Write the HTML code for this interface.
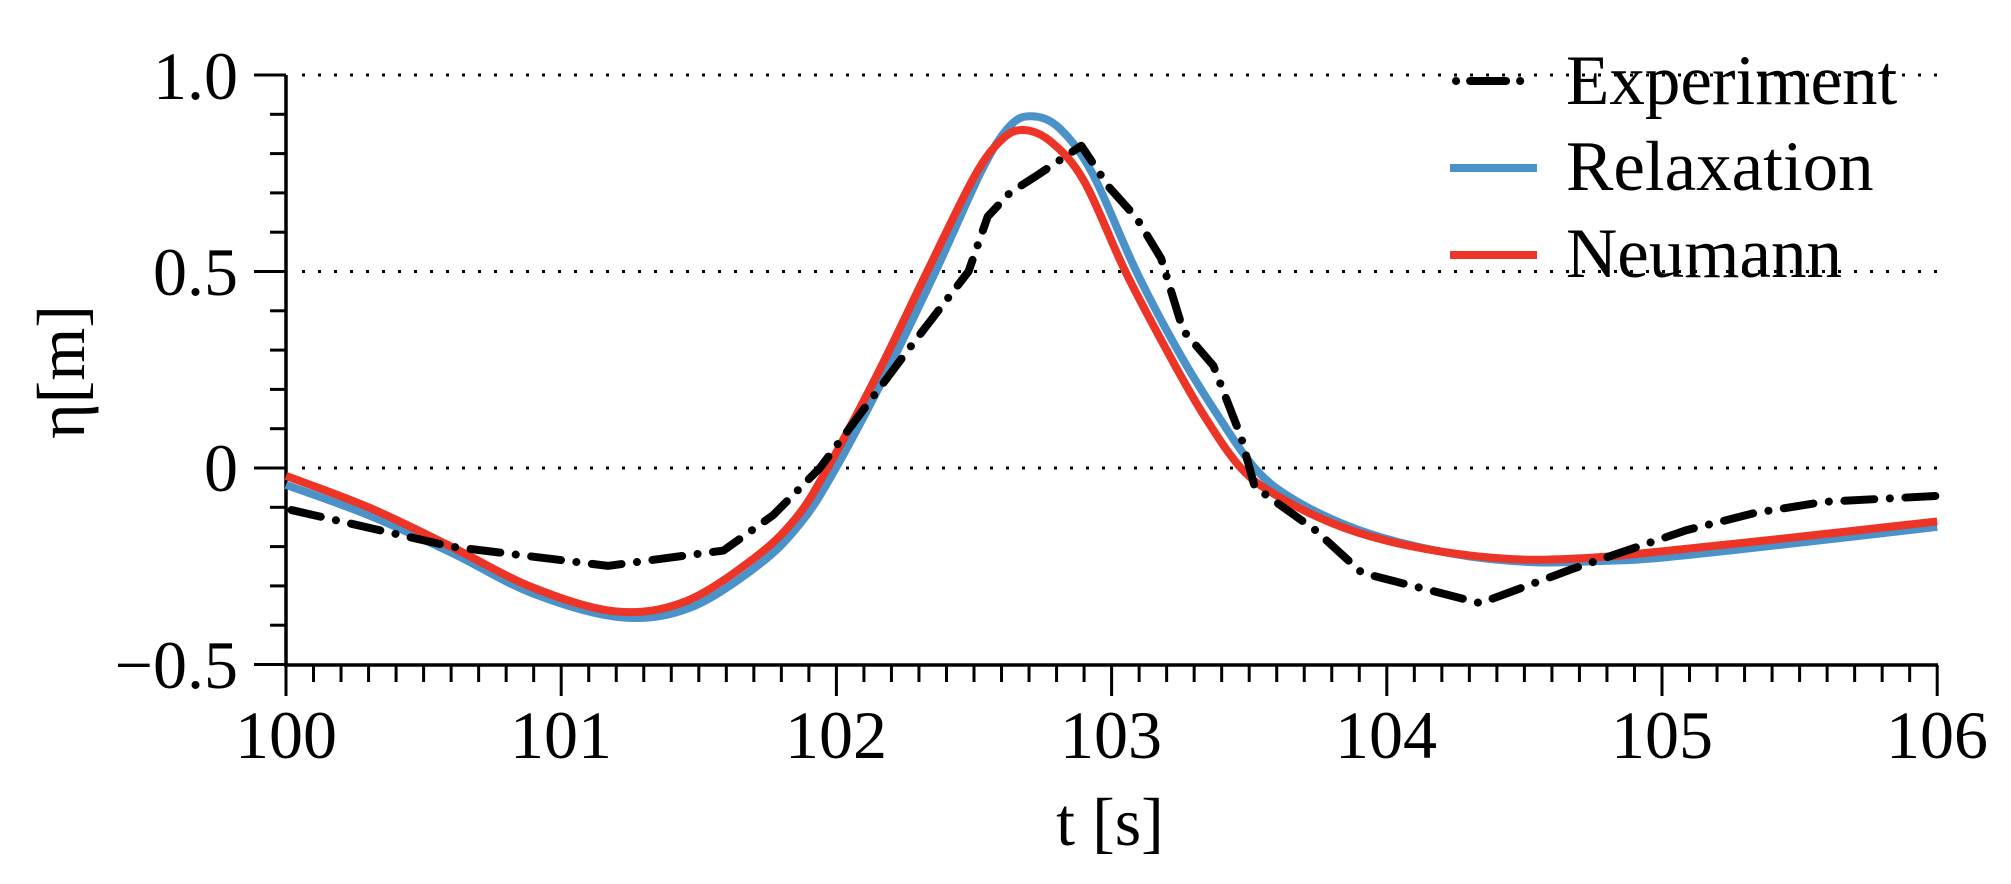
<!DOCTYPE html>
<html><head><meta charset="utf-8"><style>
html,body{margin:0;padding:0;background:#fff;}
svg{display:block;}
text{font-family:"Liberation Serif",serif;fill:#000;}
</style></head><body>
<svg id="s" width="2011" height="884" viewBox="0 0 2011 884" xmlns="http://www.w3.org/2000/svg">
<g stroke="#000" stroke-width="3" stroke-dasharray="3 13" fill="none">
<line x1="302" y1="75" x2="1937" y2="75"/>
<line x1="302" y1="271.5" x2="1937" y2="271.5"/>
<line x1="302" y1="468" x2="1937" y2="468"/>
</g>
<g id="ticks" stroke="#000" stroke-width="3"></g>
<line x1="286" y1="75" x2="286" y2="666" stroke="#000" stroke-width="3.5"/>
<line x1="284" y1="665" x2="1938" y2="665" stroke="#000" stroke-width="3.5"/>
<g font-size="68" text-anchor="end">
<text x="238" y="99">1.0</text>
<text x="238" y="295">0.5</text>
<text x="238" y="491">0</text>
<text x="238" y="688">−0.5</text>
</g>
<g font-size="68" text-anchor="middle">
<text x="286" y="758">100</text>
<text x="561" y="758">101</text>
<text x="836" y="758">102</text>
<text x="1111" y="758">103</text>
<text x="1386" y="758">104</text>
<text x="1662" y="758">105</text>
<text x="1937" y="758">106</text>
<text x="1110" y="845">t [s]</text>
</g>
<text font-size="68" text-anchor="middle" transform="translate(84,372) rotate(-90)">η[m]</text>
<path id="blue" fill="none" stroke="#4a92c8" stroke-width="8" stroke-linejoin="round"/>
<path id="red" fill="none" stroke="#ec3427" stroke-width="8" stroke-linejoin="round"/>
<path id="exp" fill="none" stroke="#000" stroke-width="8" stroke-linecap="round" stroke-linejoin="round" stroke-dasharray="30 15.5 0.1 15.5"/>
<line x1="1456" y1="81" x2="1537" y2="81" stroke="#000" stroke-width="8" stroke-linecap="round" stroke-dasharray="0.1 14 36 14 0.1 100"/>
<line x1="1450" y1="168" x2="1537" y2="168" stroke="#4a92c8" stroke-width="8"/>
<line x1="1450" y1="255" x2="1537" y2="255" stroke="#ec3427" stroke-width="8"/>
<g font-size="71">
<text x="1566" y="104">Experiment</text>
<text x="1566" y="190">Relaxation</text>
<text x="1566" y="277">Neumann</text>
</g>
</svg>
<script>
var X=function(t){return 286+275.2*(t-100);},Y=function(v){return 468-393*v;};
var ns="http://www.w3.org/2000/svg",tk=document.getElementById("ticks");
function ln(a,b,c,d){var l=document.createElementNS(ns,"line");l.setAttribute("x1",a);l.setAttribute("y1",b);l.setAttribute("x2",c);l.setAttribute("y2",d);tk.appendChild(l);}
for(var i=0;i<=60;i++){var x=X(100+i/10);ln(x,665,x,i%10==0?696:682);}
for(var j=0;j<=15;j++){var y=Y(-0.5+j/10);ln(j%5==0?254:270,y,286,y);}
function cr(p){p=p.map(function(q){return [X(q[0]),Y(q[1])];});var d="M"+p[0][0]+","+p[0][1];
for(var i=0;i<p.length-1;i++){var p0=p[i-1]||p[i],p1=p[i],p2=p[i+1],p3=p[i+2]||p2;
d+=" C"+(p1[0]+(p2[0]-p0[0])/6)+","+(p1[1]+(p2[1]-p0[1])/6)+" "+(p2[0]-(p3[0]-p1[0])/6)+","+(p2[1]-(p3[1]-p1[1])/6)+" "+p2[0]+","+p2[1];}return d;}
function pl(p){return "M"+p.map(function(q){return X(q[0])+","+Y(q[1]);}).join(" L");}
var red=[[100,-0.02],[100.3,-0.1],[100.6,-0.2],[100.9,-0.305],[101.2,-0.365],[101.45,-0.34],[101.7,-0.23],[101.85,-0.13],[101.96,-0.01],[102.15,0.24],[102.33,0.5],[102.5,0.74],[102.6,0.835],[102.68,0.86],[102.78,0.83],[102.9,0.73],[103.05,0.5],[103.2,0.3],[103.33,0.14],[103.47,0.0],[103.6,-0.07],[103.8,-0.14],[104.0,-0.185],[104.25,-0.218],[104.5,-0.233],[104.75,-0.228],[105,-0.212],[105.5,-0.175],[106,-0.136]];
var blue=[[100,-0.043],[100.3,-0.12],[100.6,-0.215],[100.9,-0.32],[101.22,-0.38],[101.47,-0.355],[101.72,-0.245],[101.87,-0.14],[101.99,-0.01],[102.18,0.24],[102.36,0.5],[102.53,0.76],[102.63,0.87],[102.71,0.895],[102.81,0.865],[102.93,0.75],[103.09,0.5],[103.24,0.3],[103.38,0.14],[103.52,0.0],[103.65,-0.075],[103.85,-0.145],[104.05,-0.19],[104.3,-0.225],[104.55,-0.24],[104.8,-0.236],[105,-0.228],[105.5,-0.19],[106,-0.15]];
var ex=[[100.02,-0.107],[100.6,-0.2],[101.17,-0.249],[101.59,-0.21],[101.77,-0.12],[101.94,0],[102.26,0.3],[102.48,0.5],[102.55,0.64],[102.63,0.7],[102.73,0.745],[102.89,0.82],[102.99,0.715],[103.09,0.637],[103.18,0.533],[103.26,0.35],[103.37,0.26],[103.47,0.08],[103.52,-0.048],[103.74,-0.158],[103.91,-0.267],[104.34,-0.344],[104.67,-0.258],[105.09,-0.158],[105.34,-0.114],[105.59,-0.086],[106,-0.071]];
document.getElementById("red").setAttribute("d",cr(red));
document.getElementById("blue").setAttribute("d",cr(blue));
document.getElementById("exp").setAttribute("d",pl(ex));
</script>
</body></html>
